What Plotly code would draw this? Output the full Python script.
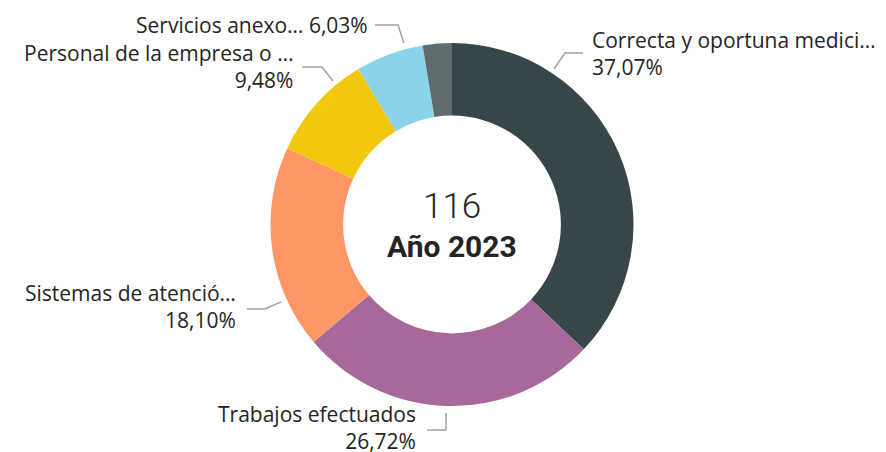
import plotly.graph_objects as go

# slice data (clockwise from 12 o'clock)
labels = ["Correcta y oportuna medici…", "Trabajos efectuados", "Sistemas de atenció…",
          "Personal de la empresa o …", "Servicios anexo…", "Otros"]
counts = [43, 31, 21, 11, 7, 3]
colors = ["#374649", "#A66999", "#FE9666", "#F2C80F", "#8AD4EB", "#5F6B6D"]
year_label = "Año 2023"

W, H = 886, 452
OFF = 8  # page body margin: figure sits 8px in from the window corner
cx, cy, r = 452, 224.5, 181.5  # window pixels

total = sum(counts)
pct = [f"{c / total * 100:.2f}".replace(".", ",") + "%" for c in counts]

fig = go.Figure()
fig.add_trace(go.Pie(
    labels=labels, values=counts, sort=False, direction="clockwise",
    hole=0.6, textinfo="none", hoverinfo="label+percent",
    marker=dict(colors=colors, line=dict(width=0)),
    domain=dict(x=[(cx - OFF - r) / W, (cx - OFF + r) / W],
                y=[(H - (cy - OFF) - r) / H, (H - (cy - OFF) + r) / H]),
    showlegend=False,
))

# label layout: (text x, text y, xanchor, single line?, leader line points)
label_layout = {
    0: (590, 53.5, "left", False, [(583, 53), (565, 53), (554, 69)]),
    1: (418, 427, "right", False, [(427, 430), (446, 430), (446, 413)]),
    2: (238, 306.5, "right", False, [(247, 309), (265, 309), (281, 302)]),
    3: (295, 66.5, "right", False, [(302, 67), (322, 67), (333, 81)]),
    4: (370, 25, "right", True, [(375, 25), (398, 25), (404, 43)]),
}

label_font = "Open Sans, DejaVu Sans, sans-serif"
center_font = "Roboto, DejaVu Sans, sans-serif"
annotations = []
shapes = []
for i, (tx, ty, anchor, single, pts) in label_layout.items():
    text = f"{labels[i]} {pct[i]}" if single else f"{labels[i]}<br>{pct[i]}"
    annotations.append(dict(
        x=tx, y=ty, xref="x", yref="y", text=text, showarrow=False,
        xanchor=anchor, yanchor="middle", align=anchor,
        font=dict(family=label_font, size=21, color="#252423"),
    ))
    path = "M " + " L ".join(f"{px},{py}" for px, py in pts)
    shapes.append(dict(type="path", path=path, xref="x", yref="y",
                       line=dict(color="#A0A0A0", width=1.5)))

# centre text
annotations.append(dict(x=cx, y=206, xref="x", yref="y", text=str(total),
                        showarrow=False, xanchor="center", yanchor="middle",
                        font=dict(family=center_font, size=35, color="#252423", weight=300)))
annotations.append(dict(x=cx, y=246, xref="x", yref="y", text=year_label,
                        showarrow=False, xanchor="center", yanchor="middle",
                        font=dict(family=center_font, size=30, color="#252423", weight="bold")))

fig.update_layout(
    width=W, height=H, margin=dict(l=0, r=0, t=0, b=0),
    paper_bgcolor="white", plot_bgcolor="white",
    xaxis=dict(range=[OFF, W + OFF], visible=False, fixedrange=True),
    yaxis=dict(range=[H + OFF, OFF], visible=False, fixedrange=True),
    annotations=annotations, shapes=shapes,
)

fig.write_html("out.html")
